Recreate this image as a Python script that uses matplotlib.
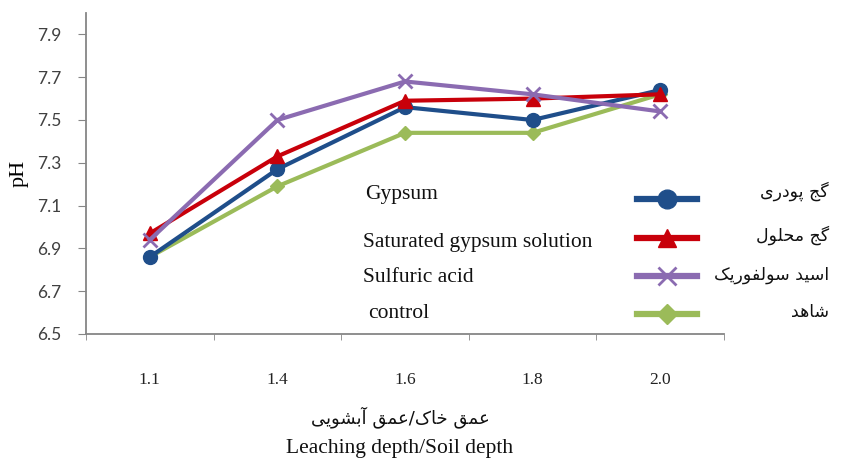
import matplotlib
matplotlib.use("Agg")
import matplotlib.pyplot as plt

# data
depth_labels = ['1.1', '1.4', '1.6', '1.8', '2.0']
gypsum = [6.86, 7.27, 7.56, 7.50, 7.64]
saturated = [6.97, 7.33, 7.59, 7.60, 7.62]
sulfuric = [6.94, 7.50, 7.68, 7.62, 7.54]
control = [6.86, 7.19, 7.44, 7.44, 7.62]

names_en = ['Gypsum', 'Saturated gypsum solution', 'Sulfuric acid', 'control']
names_fa = ['گج پودری', 'گج محلول', 'اسید سولفوریک', 'شاهد']
xlabel_fa = 'عمق خاک/عمق آبشویی'
xlabel_en = 'Leaching depth/Soil depth'
yticks = [6.5, 6.7, 6.9, 7.1, 7.3, 7.5, 7.7, 7.9]

# minimal persian shaping (matplotlib has no arabic shaping / bidi)
forms = {
    'ا': ('\uFE8D', '\uFE8E'), 'آ': ('\uFE81', '\uFE82'),
    'د': ('\uFEA9', '\uFEAA'), 'ر': ('\uFEAD', '\uFEAE'),
    'و': ('\uFEED', '\uFEEE'),
    'ب': ('\uFE8F', '\uFE90', '\uFE91', '\uFE92'),
    'پ': ('\uFB56', '\uFB57', '\uFB58', '\uFB59'),
    'ج': ('\uFE9D', '\uFE9E', '\uFE9F', '\uFEA0'),
    'ح': ('\uFEA1', '\uFEA2', '\uFEA3', '\uFEA4'),
    'خ': ('\uFEA5', '\uFEA6', '\uFEA7', '\uFEA8'),
    'س': ('\uFEB1', '\uFEB2', '\uFEB3', '\uFEB4'),
    'ش': ('\uFEB5', '\uFEB6', '\uFEB7', '\uFEB8'),
    'ع': ('\uFEC9', '\uFECA', '\uFECB', '\uFECC'),
    'ف': ('\uFED1', '\uFED2', '\uFED3', '\uFED4'),
    'ق': ('\uFED5', '\uFED6', '\uFED7', '\uFED8'),
    'ک': ('\uFB8E', '\uFB8F', '\uFB90', '\uFB91'),
    'گ': ('\uFB92', '\uFB93', '\uFB94', '\uFB95'),
    'ل': ('\uFEDD', '\uFEDE', '\uFEDF', '\uFEE0'),
    'م': ('\uFEE1', '\uFEE2', '\uFEE3', '\uFEE4'),
    'ه': ('\uFEE9', '\uFEEA', '\uFEEB', '\uFEEC'),
    'ی': ('\uFBFC', '\uFBFD', '\uFBFE', '\uFBFF'),
}


def shape(s):
    out = []
    for i, c in enumerate(s):
        if c not in forms:
            out.append(c)
            continue
        prev = s[i - 1] if i > 0 else ''
        nxt = s[i + 1] if i < len(s) - 1 else ''
        jp = prev in forms and len(forms[prev]) == 4
        jn = len(forms[c]) == 4 and nxt in forms
        f = forms[c]
        if jp and jn:
            out.append(f[3])
        elif jp:
            out.append(f[1])
        elif jn:
            out.append(f[2])
        else:
            out.append(f[0])
    return ''.join(out)[::-1]


serif = ['Liberation Serif', 'DejaVu Serif']
fa_font = ['DejaVu Sans']

fig = plt.figure(figsize=(8.41, 4.59), dpi=100)
ax = fig.add_axes([86 / 841, 125 / 459, 638 / 841, 321 / 459])

x = list(range(len(depth_labels)))
colors = ['#1F4E8A', '#C8000A', '#8B6BB1', '#9BBB59']
markers = ['o', '^', 'x', 'D']
msizes = [10, 9.5, 10, 7.5]
zord = [4, 5, 6, 3]
series = [gypsum, saturated, sulfuric, control]
lines = []
for vals, c, m, ms, z in zip(series, colors, markers, msizes, zord):
    ln, = ax.plot(x, vals, color=c, lw=3, marker=m, markersize=ms,
                  markeredgewidth=2 if m == 'x' else 1, markeredgecolor=c,
                  zorder=z, clip_on=False)
    lines.append(ln)

ax.set_xlim(-0.5, 4.5)
ax.set_ylim(6.5, 8.0)
ax.set_yticks(yticks)
ax.set_yticklabels([f'{v:.1f}' for v in yticks], family='Lato', fontsize=12.5,
                   color='#404040')
ax.set_xticks(x)
ax.set_xticklabels(depth_labels, family=serif, fontsize=12.5, color='#222222')
ax.set_xticks([i - 0.5 for i in range(6)], minor=True)
ax.tick_params(axis='x', which='major', length=0, pad=27)
ax.tick_params(axis='x', which='minor', length=4, color='#868686', direction='out')
ax.tick_params(axis='y', length=6, color='#868686', pad=12)
for s in ['top', 'right']:
    ax.spines[s].set_visible(False)
for s in ['left', 'bottom']:
    ax.spines[s].set_color('#868686')
    ax.spines[s].set_linewidth(1.3)

ax.set_ylabel('pH', family=serif, fontsize=16, labelpad=6)

# legend: samples only, texts placed on both sides
leg = ax.legend(lines, [''] * 4, loc='upper left',
                bbox_to_anchor=(637 / 841, 1 - 191 / 459),
                bbox_transform=fig.transFigure, frameon=False,
                handlelength=2.8, handletextpad=0, borderpad=0,
                borderaxespad=0, labelspacing=0.84, fontsize=15.5,
                markerscale=1.35)
for h in leg.legend_handles:
    h.set_linewidth(4.5)

en_y = [195, 243, 278, 313]
en_x = [365, 363, 363, 368]
for t, xx, yy in zip(names_en, en_x, en_y):
    fig.text(xx / 841, 1 - yy / 459, t, family=serif, fontsize=15.5,
             ha='left', va='center', color='#111111')

fa_y = [191, 235, 275, 312]
for t, yy in zip(names_fa, fa_y):
    fig.text(829 / 841, 1 - yy / 459, shape(t), family=fa_font, fontsize=12.5,
             ha='right', va='center', color='#111111')

fig.text(400 / 841, 1 - 417 / 459, shape(xlabel_fa), family=fa_font,
         fontsize=13, ha='center', va='center', color='#111111')
fig.text(400 / 841, 1 - 449 / 459, xlabel_en, family=serif, fontsize=15.5,
         ha='center', va='center', color='#111111')

fig.savefig('out.png', dpi=100)
